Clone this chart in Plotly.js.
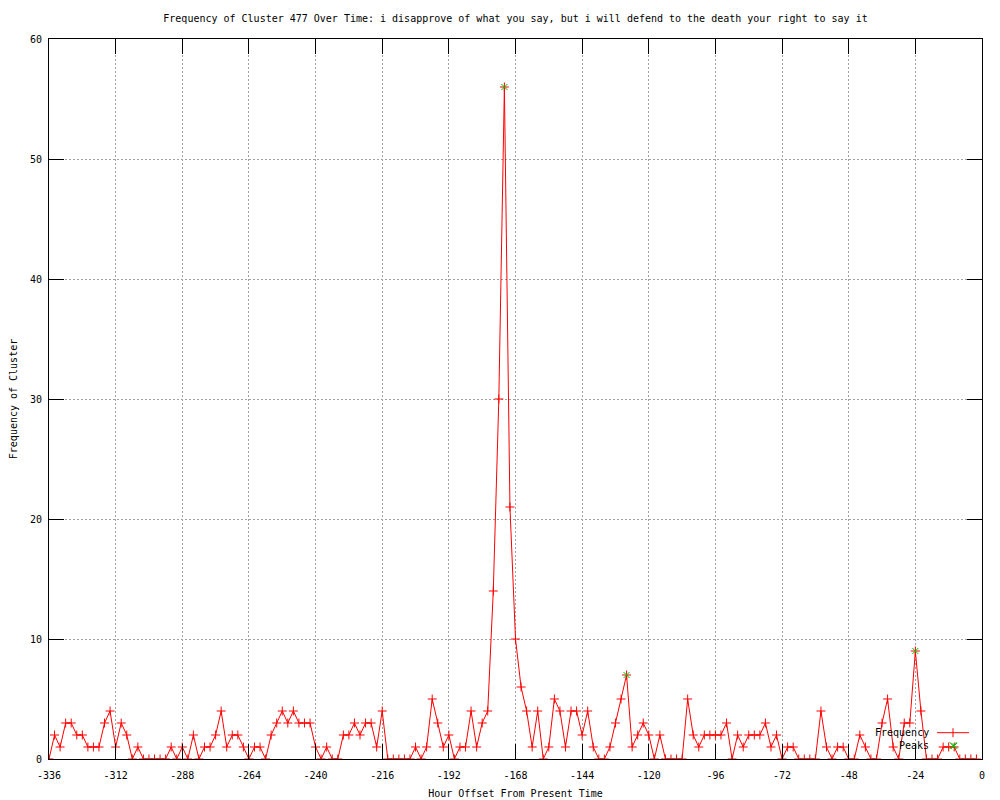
<!DOCTYPE html>
<html>
<head>
<meta charset="utf-8">
<script src="https://cdn.plot.ly/plotly-3.0.1.min.js"></script>
<style>
  html, body { margin: 0; padding: 0; background: #ffffff; }
  #chart { width: 1000px; height: 800px; }
</style>
</head>
<body>
<div id="chart"></div>
<script>
// Hour offsets (x) of each sample
const hours = [
  -336,-334,-332,-330,-328,-326,-324,-322,-320,-318,-316,-314,-312,-310,-308,-306,-304,-302,-300,-298,
  -296,-294,-292,-290,-288,-286,-284,-282,-280,-278,-276,-274,-272,-270,-268,-266,-264,-262,-260,-258,
  -256,-254,-252,-250,-248,-246,-244,-242,-240,-238,-236,-234,-232,-230,-228,-226,-224,-222,-220,-218,
  -216,-214,-212,-210,-208,-206,-204,-202,-200,-198,-196,-194,-192,-190,-188,-186,-184,-182,-180,-178,
  -176,-174,-172,-170,-168,-166,-164,-162,-160,-158,-156,-154,-152,-150,-148,-146,-144,-142,-140,-138,
  -136,-134,-132,-130,-128,-126,-124,-122,-120,-118,-116,-114,-112,-110,-108,-106,-104,-102,-100,-98,
  -96,-94,-92,-90,-88,-86,-84,-82,-80,-78,-76,-74,-72,-70,-68,-66,-64,-62,-60,-58,
  -56,-54,-52,-50,-48,-46,-44,-42,-40,-38,-36,-34,-32,-30,-28,-26,-24,-22,-20,-18,
  -16,-14,-12,-10,-8,-6,-4,-2
];

// Frequency of cluster at each hour offset
const frequency = [
  0,2,1,3,3,2,2,1,1,1,3,4,1,3,2,0,1,0,0,0,
  0,0,1,0,1,0,2,0,1,1,2,4,1,2,2,1,0,1,1,0,
  2,3,4,3,4,3,3,3,1,0,1,0,0,2,2,3,2,3,3,1,
  4,0,0,0,0,0,1,0,1,5,3,1,2,0,1,1,4,1,3,4,
  14,30,56,21,10,6,4,1,4,0,1,5,4,1,4,4,2,4,1,0,
  0,1,3,5,7,1,2,3,2,0,2,0,0,0,0,5,2,1,2,2,
  2,2,3,0,2,1,2,2,2,3,1,2,0,1,1,0,0,0,0,4,
  1,0,1,1,0,0,2,1,0,0,3,5,1,0,3,3,9,4,0,0,
  0,1,1,1,0,0,0,0
];

// Detected peaks
const peakHours = [-172, -128, -24, -10];
const peakValues = [56, 7, 9, 1.1];

// Axis ticks
const xTickVals = [-336,-312,-288,-264,-240,-216,-192,-168,-144,-120,-96,-72,-48,-24,0];
const xTickText = ['-336','-312','-288','-264','-240','-216','-192','-168','-144','-120','-96','-72','-48','-24','0'];
const yTickVals = [0,10,20,30,40,50,60];

const FONT = '"DejaVu Sans Mono", "Liberation Mono", monospace';
const FS = 10;
const RED = '#ff0000';
const GREEN = '#00c000';

const traces = [
  {
    type: 'scatter',
    mode: 'lines+markers',
    name: 'Frequency',
    x: hours,
    y: frequency,
    line: { color: RED, width: 1 },
    marker: { symbol: 'cross-thin', size: 6.4, color: RED, line: { color: RED, width: 1 } },
    showlegend: false,
    cliponaxis: true
  },
  {
    type: 'scatter',
    mode: 'markers',
    name: 'Peaks',
    x: peakHours,
    y: peakValues,
    marker: { symbol: 'x-thin', size: 6, color: GREEN, line: { color: GREEN, width: 1 } },
    showlegend: false,
    cliponaxis: false
  }
];

// Legend drawn gnuplot-style: text, then sample to its right
const legX = (953 - 49) / 933;
const legY1 = (759.3 - 733) / 720;
const legY2 = (759.3 - 746) / 720;

const shapes = [
  { type: 'line', xref: 'paper', yref: 'paper', xsizemode: 'pixel', ysizemode: 'pixel',
    xanchor: legX, yanchor: legY1, x0: -16, x1: 16, y0: 0, y1: 0, line: { color: RED, width: 1 } },
  { type: 'line', xref: 'paper', yref: 'paper', xsizemode: 'pixel', ysizemode: 'pixel',
    xanchor: legX, yanchor: legY1, x0: 0, x1: 0, y0: -4.5, y1: 4.5, line: { color: RED, width: 1 } },
  { type: 'line', xref: 'paper', yref: 'paper', xsizemode: 'pixel', ysizemode: 'pixel',
    xanchor: legX, yanchor: legY2, x0: -3.5, x1: 3.5, y0: -3.5, y1: 3.5, line: { color: GREEN, width: 1 } },
  { type: 'line', xref: 'paper', yref: 'paper', xsizemode: 'pixel', ysizemode: 'pixel',
    xanchor: legX, yanchor: legY2, x0: -3.5, x1: 3.5, y0: 3.5, y1: -3.5, line: { color: GREEN, width: 1 } }
];

const annotations = [
  { xref: 'paper', yref: 'paper', x: (931 - 49) / 933, y: legY1, xanchor: 'right', yanchor: 'middle',
    text: 'Frequency', showarrow: false, font: { family: FONT, size: FS, color: '#000' } },
  { xref: 'paper', yref: 'paper', x: (931 - 49) / 933, y: legY2, xanchor: 'right', yanchor: 'middle',
    text: 'Peaks', showarrow: false, font: { family: FONT, size: FS, color: '#000' } }
];

const axisCommon = {
  showline: true, linecolor: '#000', linewidth: 1, mirror: 'ticks',
  ticks: 'inside', ticklen: 15, tickwidth: 1, tickcolor: '#000',
  showgrid: true, gridcolor: '#a0a0a0', gridwidth: 1, griddash: '2px,2px',
  zeroline: false, fixedrange: true,
  tickfont: { family: FONT, size: FS, color: '#000' }
};

const layout = {
  width: 1000, height: 800,
  paper_bgcolor: '#ffffff', plot_bgcolor: '#ffffff',
  margin: { l: 49, r: 18, t: 39, b: 41 },
  font: { family: FONT, size: FS, color: '#000' },
  title: {
    text: 'Frequency of Cluster 477 Over Time: i disapprove of what you say, but i will defend to the death your right to say it',
    font: { family: FONT, size: FS, color: '#000' },
    x: 0.5, xref: 'paper', xanchor: 'center',
    y: 1 - 18 / 800, yref: 'container', yanchor: 'middle'
  },
  xaxis: Object.assign({}, axisCommon, {
    range: [-336, 0], tickmode: 'array', tickvals: xTickVals, ticktext: xTickText,
    ticklabelstandoff: 7,
    title: { text: 'Hour Offset From Present Time', font: { family: FONT, size: FS, color: '#000' }, standoff: 9 }
  }),
  yaxis: Object.assign({}, axisCommon, {
    range: [0, 60], tickmode: 'array', tickvals: yTickVals,
    ticklabelstandoff: 4,
    title: { text: 'Frequency of Cluster', font: { family: FONT, size: FS, color: '#000' }, standoff: 10 }
  }),
  shapes: shapes,
  annotations: annotations,
  showlegend: false
};

Plotly.newPlot('chart', traces, layout, { displayModeBar: false, staticPlot: true });
</script>
</body>
</html>
